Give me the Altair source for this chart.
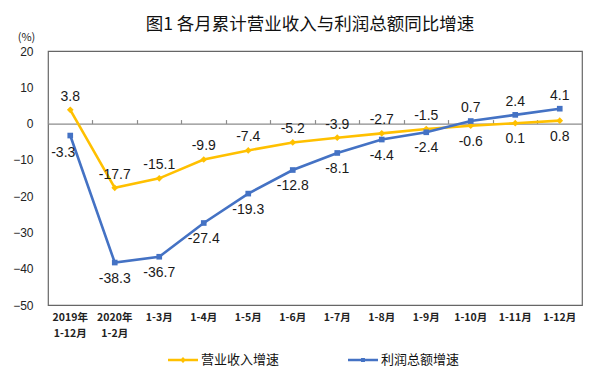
import altair as alt
import pandas as pd

categories = ["2019年 1-12月", "2020年 1-2月", "1-3月", "1-4月", "1-5月", "1-6月",
              "1-7月", "1-8月", "1-9月", "1-10月", "1-11月", "1-12月"]
revenue = [3.8, -17.7, -15.1, -9.9, -7.4, -5.2, -3.9, -2.7, -1.5, -0.6, 0.1, 0.8]
profit = [-3.3, -38.3, -36.7, -27.4, -19.3, -12.8, -8.1, -4.4, -2.4, 0.7, 2.4, 4.1]
revenue_label_side = ["above", "above", "above", "above", "above", "above",
                      "above", "above", "above", "below", "below", "below"]
profit_label_side = ["left", "below", "below", "below", "below", "below",
                     "below", "below", "below", "above", "above", "above"]
series_names = ["营业收入增速", "利润总额增速"]
series_colors = ["#FFC000", "#4472C4"]

rows = []
for name, vals, sides in [(series_names[0], revenue, revenue_label_side),
                          (series_names[1], profit, profit_label_side)]:
    for c, v, s in zip(categories, vals, sides):
        rows.append({"cat": c, "value": v, "series": name, "side": s,
                     "label": f"{v:.1f}"})
df = pd.DataFrame(rows)

W, H = 534, 254
YMIN, YMAX = -50, 20
xscale = alt.Scale(type="band", domain=categories, paddingInner=0, paddingOuter=0)
yscale = alt.Scale(domain=[YMIN, YMAX], nice=False, zero=False)

bottom_axis = alt.Axis(orient="bottom", title=None, ticks=False, domain=False,
                       labelAngle=0, labelExpr="split(datum.label, ' ')",
                       labelFontSize=10.5, labelFont="Noto Sans CJK SC",
                       labelFontWeight="bold", labelColor="#222222",
                       labelPadding=7, labelLineHeight=16)
zero_axis = alt.Axis(orient="top", offset=-(H * YMAX / (YMAX - YMIN)), title=None,
                     labels=False, ticks=True, tickSize=4, bandPosition=0,
                     domain=True, domainColor="#8c8c8c", tickColor="#8c8c8c",
                     domainWidth=1.2, tickWidth=1.2)
y_axis = alt.Axis(values=list(range(YMIN, YMAX + 1, 10)), domain=False, ticks=False,
                  grid=False, labelFontSize=12, labelFont="Liberation Sans",
                  labelColor="#222222", labelPadding=15,
                  title="(%)", titleAngle=0, titleX=-22, titleY=-14,
                  titleAlign="center", titleBaseline="middle", titleFontSize=11,
                  titleFont="Noto Sans CJK SC", titleFontWeight="normal",
                  titleColor="#222222")

def X(axis):
    return alt.X("cat:N", sort=categories, scale=xscale, axis=axis)

def Y():
    return alt.Y("value:Q", scale=yscale, axis=y_axis)

layers = []
shapes = ["diamond", "square"]
sizes = [45, 32]
for i, name in enumerate(series_names):
    sub = alt.Chart(df).transform_filter(alt.datum.series == name)
    ax = bottom_axis if i == 0 else None
    layers.append(sub.mark_line(color=series_colors[i], strokeWidth=2.6).encode(
        x=X(ax), y=Y()))
    layers.append(sub.mark_point(shape=shapes[i], filled=True, size=sizes[i],
                                 color=series_colors[i], opacity=1).encode(
        x=X(zero_axis if i == 0 else None), y=Y()))

side_offsets = {"above": (0, -13), "below": (0, 16), "left": (-7, 17)}
for side, (dx, dy) in side_offsets.items():
    layers.append(alt.Chart(df).transform_filter(alt.datum.side == side).mark_text(
        dx=dx, dy=dy, fontSize=14, font="Liberation Sans", color="#1a1a1a",
        baseline="middle").encode(x=X(None), y=Y(), text="label:N"))

sym_paths = [
    "M-1,-0.085H1V0.085H-1Z M0,-0.2L0.2,0L0,0.2L-0.2,0Z",
    "M-1,-0.085H1V0.085H-1Z M-0.13,-0.13H0.13V0.13H-0.13Z",
]
legend_props = dict(orient="none", legendX=120, legendY=294, direction="horizontal",
                    title=None, symbolSize=900, symbolStrokeWidth=0,
                    labelFontSize=13, labelFont="Noto Sans CJK SC",
                    labelColor="#111111", columnPadding=68, labelOffset=3)
layers.append(alt.Chart(df).transform_filter("false").mark_point(
    filled=True, opacity=1).encode(
    x=X(None), y=Y(),
    color=alt.Color("series:N", scale=alt.Scale(domain=series_names, range=series_colors),
                    legend=alt.Legend(**legend_props)),
    shape=alt.Shape("series:N", scale=alt.Scale(domain=series_names, range=sym_paths),
                    legend=alt.Legend(**legend_props)),
))

chart = alt.layer(*layers).resolve_axis(x="independent").properties(
    width=W, height=H,
    autosize=alt.AutoSizeParams(type="none"),
    padding={"left": 40, "top": 43, "right": 8, "bottom": 75},
    title=alt.TitleParams("图1 各月累计营业收入与利润总额同比增速", fontSize=17.5,
                          font="Noto Sans CJK SC", fontWeight="normal",
                          color="#111111", dx=-5, offset=-2),
).configure_view(stroke="#666666", strokeWidth=1.2)

chart.save("out.html", embed_options={"renderer": "svg", "actions": False})
